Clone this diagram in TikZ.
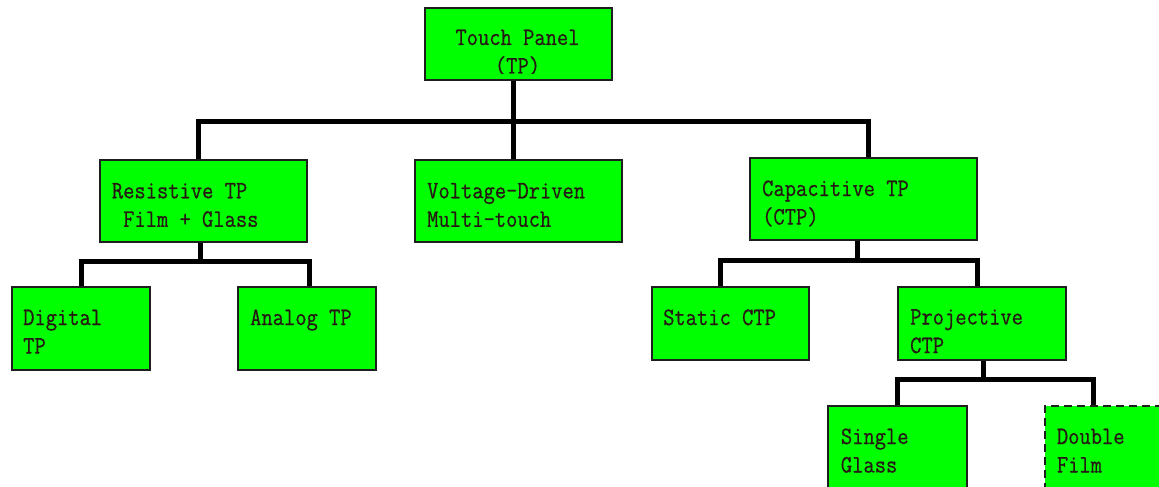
\documentclass[tikz,border=0pt]{standalone}
\usepackage{fontspec}
\setmonofont[FakeStretch=0.876,FakeBold=0.6]{Latin Modern Mono}
\usetikzlibrary{calc}
\definecolor{boxgreen}{RGB}{0,255,0}
\definecolor{ink}{RGB}{40,24,20}
\definecolor{edge}{RGB}{30,30,30}
\newcommand{\twolines}[2]{\vtop{\hbox{#1}\hbox{#2}}}
\begin{document}
\begin{tikzpicture}[x=1pt,y=-1pt,
  box/.style={draw=edge, line width=1.6pt, fill=boxgreen, inner sep=0pt, anchor=north west},
  dbox/.style={box, dashed, dash pattern=on 8pt off 5pt},
  conn/.style={line width=5pt, draw=black},
  lbl/.style={anchor=base west, inner sep=0pt, text=ink, font=\ttfamily\fontsize{25}{28.5}\selectfont}]
\clip (0,0) rectangle (1159,487);
\fill[white] (0,0) rectangle (1159,487);

% boxes
\node[box, minimum width=187pt, minimum height=72pt] (tp) at (424,7) {};
\node[box, minimum width=207pt, minimum height=82pt] (res) at (99,159) {};
\node[box, minimum width=207pt, minimum height=82pt] (volt) at (414,159) {};
\node[box, minimum width=227pt, minimum height=82pt] (cap) at (749,157) {};
\node[box, minimum width=138pt, minimum height=83pt] (dig) at (11,286) {};
\node[box, minimum width=138pt, minimum height=83pt] (ana) at (237,286) {};
\node[box, minimum width=157pt, minimum height=73pt] (stat) at (651,286) {};
\node[box, minimum width=168pt, minimum height=73pt] (proj) at (897,286) {};
\node[box, minimum width=139pt, minimum height=100pt] (single) at (827,405) {};
\node[dbox, minimum width=126pt, minimum height=100pt] (double) at (1044,405) {};

% connectors
\draw[conn] ($(tp.south)+(-4.5,0)$) -- ($(volt.north)+(-4.5,0)$);
\draw[conn] ($(res.north)+(-5,0)$) |- ($(cap.north)+(5.5,-35.5)$) -- ($(cap.north)+(5.5,0)$);
\draw[conn] ($(res.south)+(-3,0)$) -- ($(res.south)+(-3,20.5)$);
\draw[conn] ($(dig.north)+(1,0)$) |- ($(ana.north)+(3,-24.5)$) -- ($(ana.north)+(3,0)$);
\draw[conn] ($(cap.south)+(-5.5,0)$) -- ($(cap.south)+(-5.5,21)$);
\draw[conn] ($(stat.north)+(-9.5,0)$) |- ($(proj.north)+(-4,-26)$) -- ($(proj.north)+(-4,0)$);
\draw[conn] ($(proj.south)+(2,0)$) -- ($(proj.south)+(2,20.5)$);
\draw[conn] ($(single.north)+(0.5,0)$) |- ($(double.north)+(-14.5,-25.5)$) -- ($(double.north)+(-14.5,0)$);

% labels
\begin{scope}
\clip ($(tp.north west)+(2,2)$) rectangle ($(tp.south east)+(-2,-7)$);
\node[lbl, anchor=base] at (517.5,45) {\vtop{\halign{\hfil#\hfil\cr Touch Panel\cr (TP)\cr}}};
\end{scope}
\node[lbl] at (111.7,198.3) {\twolines{Resistive TP}{\ Film + Glass}};
\node[lbl] at (427,198.3) {\twolines{Voltage-Driven}{Multi-touch}};
\node[lbl] at (762,196) {\twolines{Capacitive TP}{(CTP)}};
\node[lbl] at (23,325) {\twolines{Digital}{TP}};
\node[lbl] at (250,325) {Analog TP};
\node[lbl] at (663,325) {Static CTP};
\begin{scope}
\clip ($(proj.north west)+(2,2)$) rectangle ($(proj.south east)+(-2,-7)$);
\node[lbl] at (910,324.5) {\twolines{Projective}{CTP}};
\end{scope}
\node[lbl] at (840.7,444) {\twolines{Single}{Glass}};
\node[lbl] at (1056.7,444) {\twolines{Double}{Film}};
\end{tikzpicture}
\end{document}
